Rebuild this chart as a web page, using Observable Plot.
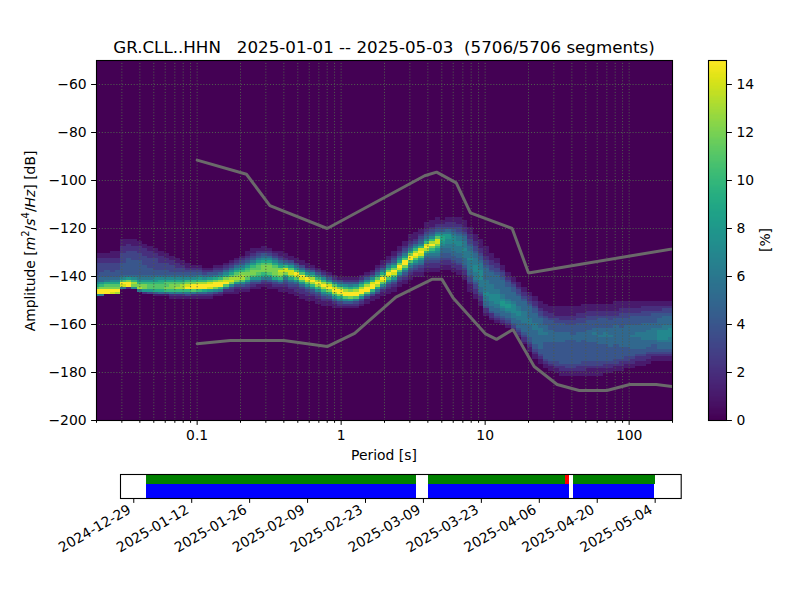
<!DOCTYPE html>
<html><head><meta charset="utf-8">
<script src="https://cdn.jsdelivr.net/npm/d3@7"></script>
<script src="https://cdn.jsdelivr.net/npm/@observablehq/plot@0.6"></script>
<style>
html,body{margin:0;padding:0;background:#fff}
#fig{position:relative;width:800px;height:600px;overflow:hidden;font-family:"DejaVu Sans",sans-serif;color:#000}
#fig>svg,#fig>div,#fig>figure{position:absolute;margin:0}
.lbl{font-size:13.9px;white-space:pre}
sup{font-size:10px;line-height:0}
</style></head><body>
<div id="fig"></div>
<script>
const titleText = "GR.CLL..HHN   2025-01-01 -- 2025-05-03  (5706/5706 segments)";
const xLabelText = "Period [s]";
const colorbarLabelText = "[%]";

// period bin centres (1/8 octave) in seconds
const periods = [0.02,0.0218,0.0238,0.0259,0.0283,0.0308,0.0336,0.0367,
0.04,0.0436,0.0476,0.0519,0.0566,0.0617,0.0673,0.0734,
0.08,0.0872,0.0951,0.104,0.113,0.123,0.135,0.147,
0.16,0.174,0.19,0.207,0.226,0.247,0.269,0.293,
0.32,0.349,0.381,0.415,0.453,0.493,0.538,0.587,
0.64,0.698,0.761,0.83,0.905,0.987,1.076,1.174,
1.28,1.396,1.522,1.66,1.81,1.974,2.153,2.348,
2.56,2.792,3.044,3.32,3.62,3.948,4.305,4.695,
5.12,5.583,6.089,6.64,7.241,7.896,8.611,9.391,
10.24,11.17,12.18,13.28,14.48,15.79,17.22,18.78,
20.48,22.33,24.36,26.56,28.96,31.58,34.44,37.56,
40.96,44.67,48.71,53.12,57.93,63.17,68.89,75.13,
81.92,89.33,97.42,106.2,115.9,126.3,137.8,150.3,
163.8,178.7,194.8];

// highest 1 dB bin filled in each period column
const columnTopDb = [-131,-131,-131,-130,-130,-125,-125,-125,-126,-127,-128,-129,-130,-131,-132,-133,
-134,-135,-136,-136,-137,-137,-136,-136,-135,-134,-133,-132,-130,-129,-129,-128,
-129,-130,-130,-131,-132,-133,-134,-135,-136,-137,-138,-139,-140,-141,-141,-141,
-141,-140,-139,-138,-136,-134,-132,-130,-128,-126,-123,-122,-121,-118,-117,-116,
-117,-116,-116,-116,-117,-120,-123,-125,-128,-131,-133,-136,-139,-141,-143,-145,
-147,-149,-151,-152,-153,-153,-153,-153,-153,-153,-152,-152,-152,-152,-152,-152,
-151,-151,-151,-151,-151,-151,-151,-151,-151,-151,-151];

// percent of segments per 1 dB bin, one hex digit per bin, from that top bin downwards
const columnPercent = [
"11223333344579bff7","1122333344558acff6","1122333444569bcff","11122333344579bcfe","11122333444579bcfd",
"11122233334444457bfe6","11222333444444458cff2","11122333344444457adc7","11222333444444568acd6","1122233334444568acc82",
"112223333444568abb83","11223333344578abb941","1122233344579abb951","112233344579bbca51","11223334579bcca621",
"1122334579bcda621","112334579bdda621","1123457acefa631","123457acffb621","123468adffa521",
"12357adff9521","12458befe8421","123469cffc731","12357adffa621","123579cefb621",
"123579bdec7321","123579bcdc84211","123468acddb7421","1123468abccb85321","1123468abccb85321",
"123468abbcba85311","1124579bccca96321","123579bcccb964211","123579bcccb95321","1123579cedca74211",
"11246aeec9643211","11358beec9643211","11358bfeb8532211","11358bfeb8532211","11358bfeb8532211",
"1247adfda743211","1247adfda743211","1247adfda753211","1247befc964211","1247befda74211",
"1358cffc96321","1247adffb7421","12469cffc8421","1247adffb6321","1247adffb7321",
"1247adffb6311","1247aeffa6311","12358befd95311","112469cfeb74211","112469cfeb853211",
"1123469cfeb853211","1123579cfeb853211","1123468bffc9643211","11123469cffb8643211","1112357adfeb8643211",
"1123457aefeb86532211","11123457aefda75432211","11123457adfca865432211","11123468beeca8765432211","112346899876554432211",
"1122356887766554432211","11223456777666554432211","111233456677666554432211","1112234556667666555432211","111223345566676666554332111",
"111223345566677766654332211","1111223445666777766655432211","11112233455555666667766554221","1112233455555666677766554221","112233455555566777766554321",
"1123345555556678876554321","11234455555678876554321","11234455556777766554321","11233455556677665554321","112234555566666555543221",
"1122345555566655555443211","11223445555666555555443211","11123345555666555555443211","111223444555655544444443211","111223444455555444444443211",
"1111233444455554444444433211","11112234444555544444444432211","11112233444555444444444433211","11112233444455444444444433211","11122334444555544444444432211",
"111122334444555444444444332211","111223344445555544444444332111","111223344455655544444444332111","111223444455565554444444332111","11122344445566555444444432211",
"11122334445556555544444432211","11112234445555555544444433211","11122334444555555554444432211","1112233444555555555444433211","1112234444555565555544432211",
"111223444455566555554432211","112233444555566655554432211","11223344455566665554432211","1122344445566666554443211","1122344555567777655543211",
"1123345555667777655543211","1123345555677776655543211"];

// Peterson noise models
const nhnmPeriod = [0.1,0.22,0.32,0.8,3.8,4.6,6.3,7.9,15.4,20,354.8];
const nhnmDb = [-91.5,-97.4,-110.5,-120,-98,-96.5,-101,-113.5,-120,-138.5,-126];
const nlnmPeriod = [0.1,0.17,0.4,0.8,1.24,2.4,4.3,5,6,10,12,15.6,21.9,31.6,45,70,101,154,328];
const nlnmDb = [-168,-166.7,-166.7,-169.2,-163.7,-148.6,-141.1,-141.1,-149,-163.8,-166.2,-162.1,-177.5,-185,-187.5,-187.5,-185,-185,-187.5];

const periodTicks = [0.1,1,10,100];
const periodMinorTicks = [0.02,0.03,0.04,0.05,0.06,0.07,0.08,0.09,0.2,0.3,0.4,0.5,0.6,0.7,0.8,0.9,2,3,4,5,6,7,8,9,20,30,40,50,60,70,80,90,200];
const dbTicks = [-60,-80,-100,-120,-140,-160,-180,-200];
const percentTicks = [0,2,4,6,8,10,12,14];

// data coverage
const dateTicks = ["2024-12-29","2025-01-12","2025-01-26","2025-02-09","2025-02-23","2025-03-09","2025-03-23","2025-04-06","2025-04-20","2025-05-04"];
const dateDomain = ["2024-12-25T19:00Z","2025-05-10T07:00Z"];
const usedSpans = [["2025-01-01T00:00Z","2025-03-07T10:00Z"],["2025-03-10T03:00Z","2025-04-13T05:00Z"],["2025-04-14T05:00Z","2025-05-04T01:00Z"]];
const availableSpans = [["2025-01-01T00:00Z","2025-03-07T10:00Z"],["2025-03-10T03:00Z","2025-04-13T05:00Z"],["2025-04-14T05:00Z","2025-05-03T23:00Z"]];
const skippedSpans = [["2025-03-21T12:00Z","2025-03-21T15:00Z"],["2025-04-12T10:00Z","2025-04-13T05:00Z"]];

const halfBin = Math.pow(2, 1/16);
const edgeLow = i => i===0 ? periods[0]/halfBin : Math.sqrt(periods[i-1]*periods[i]);
const edgeHigh = i => i===periods.length-1 ? periods[i]*halfBin : Math.sqrt(periods[i]*periods[i+1]);
const cells = periods.flatMap((p,i) => Array.from(columnPercent[i], (c,k) => ({
  lo: edgeLow(i), hi: edgeHigh(i), db: columnTopDb[i]-k, v: parseInt(c,16)
})));
const pyStyle = {fontFamily:'"DejaVu Sans",sans-serif',fontSize:"13.9px",color:"#000",background:"transparent",overflow:"visible"};
const fig = document.getElementById("fig");
const lineRows = (xs,ys) => xs.map((x,i)=>({x,y:ys[i]}));
const minus = d => d<0 ? "\u2212"+Math.abs(d) : String(d);

const main = Plot.plot({
  width:800,height:470,marginLeft:96,marginRight:128,marginTop:60,marginBottom:50,
  style:pyStyle,
  x:{type:"log",domain:[0.02,200]},
  y:{domain:[-200,-50]},
  color:{type:"linear",scheme:"viridis",domain:[0,15]},
  marks:[
    Plot.frame({fill:"#440154",stroke:"none"}),
    Plot.rect(cells,{x1:"lo",x2:"hi",y1:d=>d.db-0.5,y2:d=>d.db+0.5,fill:"v",clip:true,shapeRendering:"crispEdges"}),
    Plot.gridX(periodTicks.concat(periodMinorTicks),{stroke:"#4f5a4f",strokeOpacity:1,strokeWidth:1,strokeDasharray:"1.1,1.8"}),
    Plot.gridY(dbTicks,{stroke:"#4f5a4f",strokeOpacity:1,strokeWidth:1,strokeDasharray:"1.1,1.8"}),
    Plot.line(lineRows(nhnmPeriod,nhnmDb),{x:"x",y:"y",stroke:"#6a6a6a",strokeWidth:3,clip:true,strokeLinejoin:"miter"}),
    Plot.line(lineRows(nlnmPeriod,nlnmDb),{x:"x",y:"y",stroke:"#6a6a6a",strokeWidth:3,clip:true,strokeLinejoin:"miter"}),
    Plot.frame({stroke:"#000",strokeWidth:1.1}),
    Plot.axisX(periodMinorTicks,{anchor:"bottom",tickSize:2.8,tickFormat:()=>"",label:null}),
    Plot.axisX(periodTicks,{anchor:"bottom",tickSize:4.9,tickPadding:5,tickFormat:d=>String(d),label:null}),
    Plot.axisY(dbTicks,{anchor:"left",tickSize:4.9,tickPadding:5,tickFormat:minus,label:null})
  ]
});
main.style.left="0px";main.style.top="0px";
fig.appendChild(main);

const levels = d3.range(0,15,0.05);
const bar = Plot.plot({
  width:100,height:440,marginLeft:8,marginRight:74,marginTop:60,marginBottom:20,
  style:pyStyle,
  x:{domain:[0,1],axis:null},
  y:{domain:[0,15],axis:null},
  color:{type:"linear",scheme:"viridis",domain:[0,15]},
  marks:[
    Plot.rect(levels,{x1:0,x2:1,y1:d=>d,y2:d=>d+0.05,fill:d=>d,shapeRendering:"crispEdges"}),
    Plot.frame({stroke:"#000",strokeWidth:1.1}),
    Plot.axisY(percentTicks,{anchor:"right",tickSize:4.9,tickPadding:5,tickFormat:d=>String(d),label:null})
  ]
});
bar.style.left="700px";bar.style.top="0px";
fig.appendChild(bar);

const spanRows = (spans,y1,y2,fill) => spans.map(s=>({a:new Date(s[0]),b:new Date(s[1]),y1,y2,fill}));
const dateTickValues = dateTicks.map(d=>new Date(d+"T00:00Z"));
const timeline = Plot.plot({
  width:800,height:130,marginLeft:120,marginRight:119.3,marginTop:4,marginBottom:102,
  style:pyStyle,
  x:{type:"utc",domain:dateDomain.map(d=>new Date(d))},
  y:{domain:[0,24],axis:null},
  marks:[
    Plot.rect([...spanRows(usedSpans,14,24,"#008000"),...spanRows(availableSpans,0,14,"#0000ff"),...spanRows(skippedSpans,14,24,"#ff0000")],
      {x1:"a",x2:"b",y1:"y1",y2:"y2",fill:d=>d.fill,shapeRendering:"crispEdges"}),
    Plot.frame({stroke:"#000",strokeWidth:1.1}),
    Plot.axisX(dateTickValues,{anchor:"bottom",tickSize:4.9,tickFormat:()=>"",label:null}),
    Plot.axisX(dateTickValues,{anchor:"bottom",tickSize:0,tickPadding:10,dx:-4,tickRotate:-30,tickFormat:d3.utcFormat("%Y-%m-%d"),label:null})
  ]
});
timeline.style.left="0px";timeline.style.top="470px";
fig.appendChild(timeline);

function addLabel(html,css){
  const d=document.createElement("div");
  d.className="lbl";d.innerHTML=html;
  Object.assign(d.style,css);
  fig.appendChild(d);
}
addLabel(titleText,{left:"384px",top:"46.5px",transform:"translate(-50%,-50%)",fontSize:"16.7px"});
addLabel(xLabelText,{left:"384px",top:"455px",transform:"translate(-50%,-50%)"});
addLabel("Amplitude [<i>m</i><sup>2</sup>/<i>s</i><sup>4</sup>/<i>Hz</i>] [dB]",{left:"30px",top:"241px",transform:"translate(-50%,-50%) rotate(-90deg)"});
addLabel(colorbarLabelText,{left:"765px",top:"240px",transform:"translate(-50%,-50%) rotate(-90deg)"});
</script>
</body></html>
